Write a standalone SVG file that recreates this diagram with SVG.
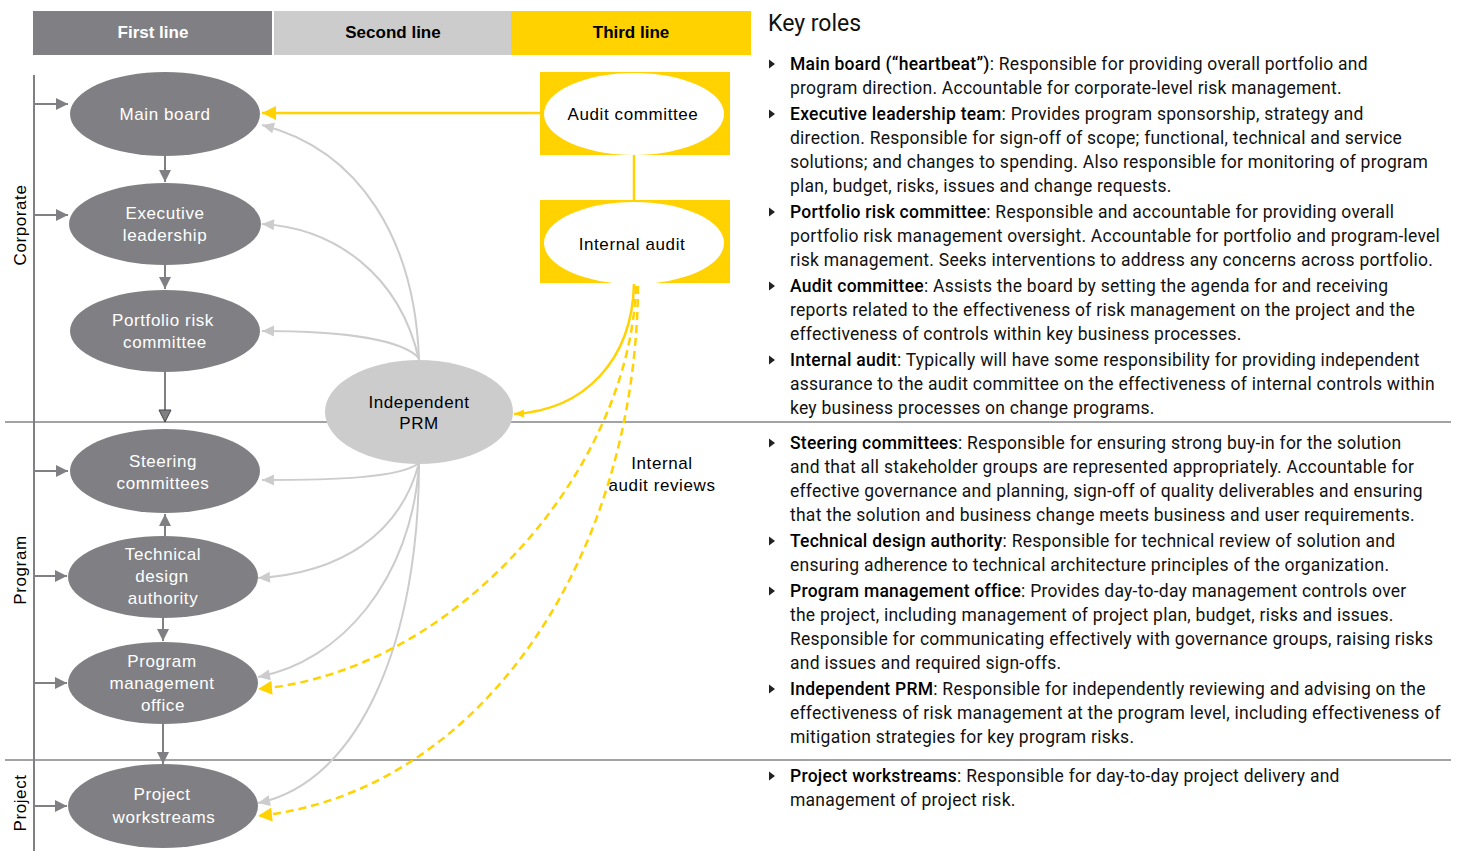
<svg xmlns="http://www.w3.org/2000/svg" width="1461" height="851" viewBox="0 0 1461 851">
<style>
.hdr{font-family:"Liberation Sans",Arial,sans-serif;font-size:17px;font-weight:bold;text-anchor:middle}
.nd{fill:#808084}
.ndt{font-family:"Liberation Sans",Arial,sans-serif;font-size:17px;fill:#fff;text-anchor:middle;letter-spacing:0.6px}
.bt{font-family:"Liberation Sans",Arial,sans-serif;font-size:17px;fill:#000;text-anchor:middle;letter-spacing:0.6px}
.rl{font-family:"Liberation Sans",Arial,sans-serif;font-size:17px;fill:#000;text-anchor:middle;letter-spacing:0.6px}
.kt{font-family:Roboto,"Liberation Sans",Arial,sans-serif;font-size:17.5px;fill:#111;letter-spacing:0.25px}
.kt tspan.b{font-weight:500;fill:#000}
.bul{fill:#222}
.dk{stroke:#808084;stroke-width:2;fill:none}
.lg{stroke:#cccccc;stroke-width:2;fill:none}
.yl{stroke:#FFD200;stroke-width:2.5;fill:none}
.yd{stroke:#FFD200;stroke-width:2.5;fill:none;stroke-dasharray:8 5}
.sep{stroke:#a3a3a3;stroke-width:2}
</style>
<defs>
<marker id="ad" markerUnits="userSpaceOnUse" markerWidth="14" markerHeight="14" viewBox="0 0 14 14" refX="13" refY="7" orient="auto"><path d="M1,1 L13,7 L1,13 Z" fill="#808084"/></marker>
<marker id="ah" markerUnits="userSpaceOnUse" markerWidth="14" markerHeight="14" viewBox="0 0 14 14" refX="13" refY="7" orient="auto"><path d="M1,1 L13,7 L1,13 Z" fill="#808084" stroke="#444" stroke-width="1"/></marker>
<marker id="al" markerUnits="userSpaceOnUse" markerWidth="14" markerHeight="14" viewBox="0 0 14 14" refX="13" refY="7" orient="auto"><path d="M1,1.5 L13,7 L1,12.5 Z" fill="#cccccc"/></marker>
<marker id="ay" markerUnits="userSpaceOnUse" markerWidth="16" markerHeight="16" viewBox="0 0 16 16" refX="15" refY="8" orient="auto"><path d="M1,1 L15,8 L1,15 Z" fill="#FFD200"/></marker>
<marker id="ays" markerUnits="userSpaceOnUse" markerWidth="12" markerHeight="12" viewBox="0 0 12 12" refX="11" refY="6" orient="auto"><path d="M1,2 L11,6 L1,10 Z" fill="#FFD200"/></marker>
</defs>

<g id="header">
<rect x="33" y="11" width="239" height="44" fill="#808084"/>
<rect x="274" y="11" width="237" height="44" fill="#cccccc"/>
<rect x="511" y="11" width="240" height="44" fill="#FFD200"/>
<text class="hdr" x="153" y="38" fill="#fff">First line</text>
<text class="hdr" x="393" y="38" fill="#000">Second line</text>
<text class="hdr" x="631" y="38" fill="#000">Third line</text>
</g>

<g id="frame">
<line class="sep" x1="5" y1="422" x2="1451" y2="422"/>
<line class="sep" x1="5" y1="760" x2="1451" y2="760"/>
<text class="rl" transform="translate(26,225) rotate(-90)">Corporate</text>
<text class="rl" transform="translate(26,570) rotate(-90)">Program</text>
<text class="rl" transform="translate(26,803) rotate(-90)">Project</text>
</g>

<g id="connectors">
<line class="dk" x1="34" y1="75" x2="34" y2="851"/>
<line class="dk" x1="34" y1="104" x2="68" y2="104" marker-end="url(#ad)"/>
<line class="dk" x1="34" y1="215" x2="68" y2="215" marker-end="url(#ad)"/>
<line class="dk" x1="34" y1="471" x2="68" y2="471" marker-end="url(#ad)"/>
<line class="dk" x1="34" y1="576" x2="67" y2="576" marker-end="url(#ad)"/>
<line class="dk" x1="34" y1="683" x2="67" y2="683" marker-end="url(#ad)"/>
<line class="dk" x1="34" y1="806" x2="67" y2="806" marker-end="url(#ad)"/>
<line class="dk" x1="165" y1="156" x2="165" y2="182" marker-end="url(#ad)"/>
<line class="dk" x1="165" y1="265" x2="165" y2="289" marker-end="url(#ad)"/>
<line class="dk" x1="165" y1="372" x2="165" y2="422" marker-end="url(#ah)"/>
<line class="dk" x1="165" y1="536" x2="165" y2="514" marker-end="url(#ad)"/>
<line class="dk" x1="163" y1="617" x2="163" y2="641" marker-end="url(#ad)"/>
<line class="dk" x1="163" y1="724" x2="163" y2="764" marker-end="url(#ad)"/>

<path class="lg" d="M419,360 C415,240 360,150 262,125" marker-end="url(#al)"/>
<path class="lg" d="M419,360 C400,275 335,228 262,224" marker-end="url(#al)"/>
<path class="lg" d="M419,358 C400,338 335,331 262,331" marker-end="url(#al)"/>
<path class="lg" d="M419,463 C400,478 335,480 262,480" marker-end="url(#al)"/>
<path class="lg" d="M419,463 C400,535 340,573 258,578" marker-end="url(#al)"/>
<path class="lg" d="M419,463 C412,580 340,662 258,677" marker-end="url(#al)"/>
<path class="lg" d="M419,463 C419,640 360,782 258,803" marker-end="url(#al)"/>

<line class="yl" x1="540" y1="113" x2="262" y2="113" marker-end="url(#ay)"/>
<line class="yl" x1="634" y1="155" x2="634" y2="200" stroke-width="2"/>
<path class="yl" d="M634,284 C632,360 585,410 514,414" marker-end="url(#ays)"/>
<path class="yd" d="M636,286 C630,470 455,672 258,689" marker-end="url(#ay)"/>
<path class="yd" d="M638,286 C636,560 480,792 258,816" marker-end="url(#ay)"/>
<text class="bt" x="662" y="469">Internal</text>
<text class="bt" x="662" y="491">audit reviews</text>
</g>

<g id="main-board"><ellipse class="nd" cx="165" cy="114" rx="95" ry="42"/><text class="ndt" x="165" y="120">Main board</text></g>
<g id="executive-leadership"><ellipse class="nd" cx="165" cy="224" rx="96" ry="41"/><text class="ndt" x="165" y="219">Executive</text><text class="ndt" x="165" y="241">leadership</text></g>
<g id="portfolio-risk-committee"><ellipse class="nd" cx="165" cy="331" rx="95" ry="41"/><text class="ndt" x="163" y="326">Portfolio risk</text><text class="ndt" x="165" y="348">committee</text></g>
<g id="steering-committees"><ellipse class="nd" cx="165" cy="471" rx="95" ry="42"/><text class="ndt" x="163" y="467">Steering</text><text class="ndt" x="163" y="489">committees</text></g>
<g id="technical-design-authority"><ellipse class="nd" cx="163" cy="577" rx="95" ry="41"/><text class="ndt" x="163" y="560">Technical</text><text class="ndt" x="162" y="582">design</text><text class="ndt" x="163" y="604">authority</text></g>
<g id="program-management-office"><ellipse class="nd" cx="163" cy="683" rx="95" ry="41"/><text class="ndt" x="162" y="667">Program</text><text class="ndt" x="162" y="689">management</text><text class="ndt" x="163" y="711">office</text></g>
<g id="project-workstreams"><ellipse class="nd" cx="163" cy="806" rx="95" ry="42"/><text class="ndt" x="162" y="800">Project</text><text class="ndt" x="164" y="823">workstreams</text></g>
<g id="independent-prm"><ellipse cx="419" cy="412" rx="94" ry="52" fill="#cccccc"/><text class="bt" x="419" y="408">Independent</text><text class="bt" x="419" y="429">PRM</text></g>
<g id="audit-committee"><rect x="540" y="72" width="190" height="83" fill="#FFD200"/><ellipse cx="634" cy="114" rx="90" ry="41" fill="#fff"/><text class="bt" x="633" y="120">Audit committee</text></g>
<g id="internal-audit"><rect x="540" y="200" width="190" height="83" fill="#FFD200"/><ellipse cx="634" cy="243" rx="90" ry="41" fill="#fff"/><text class="bt" x="632" y="250">Internal audit</text></g>

<g id="key-roles">
<text x="768" y="31" font-family="Roboto,'Liberation Sans',Arial,sans-serif" font-size="23" fill="#111">Key roles</text>
<g class="bul">
<path d="M769,59.5 L775,64 L769,68.5 Z"/>
<path d="M769,109.5 L775,114 L769,118.5 Z"/>
<path d="M769,207.5 L775,212 L769,216.5 Z"/>
<path d="M769,281.5 L775,286 L769,290.5 Z"/>
<path d="M769,355.5 L775,360 L769,364.5 Z"/>
<path d="M769,438.5 L775,443 L769,447.5 Z"/>
<path d="M769,536.5 L775,541 L769,545.5 Z"/>
<path d="M769,586.5 L775,591 L769,595.5 Z"/>
<path d="M769,684.5 L775,689 L769,693.5 Z"/>
<path d="M769,771.5 L775,776 L769,780.5 Z"/>
</g>
<text class="kt">
<tspan x="790" y="70"><tspan class="b">Main board (“heartbeat”)</tspan>: Responsible for providing overall portfolio and</tspan>
<tspan x="790" y="94">program direction. Accountable for corporate-level risk management.</tspan>
<tspan x="790" y="120"><tspan class="b">Executive leadership team</tspan>: Provides program sponsorship, strategy and</tspan>
<tspan x="790" y="144">direction. Responsible for sign-off of scope; functional, technical and service</tspan>
<tspan x="790" y="168">solutions; and changes to spending. Also responsible for monitoring of program</tspan>
<tspan x="790" y="192">plan, budget, risks, issues and change requests.</tspan>
<tspan x="790" y="218"><tspan class="b">Portfolio risk committee</tspan>: Responsible and accountable for providing overall</tspan>
<tspan x="790" y="242">portfolio risk management oversight. Accountable for portfolio and program-level</tspan>
<tspan x="790" y="266">risk management. Seeks interventions to address any concerns across portfolio.</tspan>
<tspan x="790" y="292"><tspan class="b">Audit committee</tspan>: Assists the board by setting the agenda for and receiving</tspan>
<tspan x="790" y="316">reports related to the effectiveness of risk management on the project and the</tspan>
<tspan x="790" y="340">effectiveness of controls within key business processes.</tspan>
<tspan x="790" y="366"><tspan class="b">Internal audit</tspan>: Typically will have some responsibility for providing independent</tspan>
<tspan x="790" y="390">assurance to the audit committee on the effectiveness of internal controls within</tspan>
<tspan x="790" y="414">key business processes on change programs.</tspan>
<tspan x="790" y="449"><tspan class="b">Steering committees</tspan>: Responsible for ensuring strong buy-in for the solution</tspan>
<tspan x="790" y="473">and that all stakeholder groups are represented appropriately. Accountable for</tspan>
<tspan x="790" y="497">effective governance and planning, sign-off of quality deliverables and ensuring</tspan>
<tspan x="790" y="521">that the solution and business change meets business and user requirements.</tspan>
<tspan x="790" y="547"><tspan class="b">Technical design authority</tspan>: Responsible for technical review of solution and</tspan>
<tspan x="790" y="571">ensuring adherence to technical architecture principles of the organization.</tspan>
<tspan x="790" y="597"><tspan class="b">Program management office</tspan>: Provides day-to-day management controls over</tspan>
<tspan x="790" y="621">the project, including management of project plan, budget, risks and issues.</tspan>
<tspan x="790" y="645">Responsible for communicating effectively with governance groups, raising risks</tspan>
<tspan x="790" y="669">and issues and required sign-offs.</tspan>
<tspan x="790" y="695"><tspan class="b">Independent PRM</tspan>: Responsible for independently reviewing and advising on the</tspan>
<tspan x="790" y="719">effectiveness of risk management at the program level, including effectiveness of</tspan>
<tspan x="790" y="743">mitigation strategies for key program risks.</tspan>
<tspan x="790" y="782"><tspan class="b">Project workstreams</tspan>: Responsible for day-to-day project delivery and</tspan>
<tspan x="790" y="806">management of project risk.</tspan>
</text>
</g>
</svg>
